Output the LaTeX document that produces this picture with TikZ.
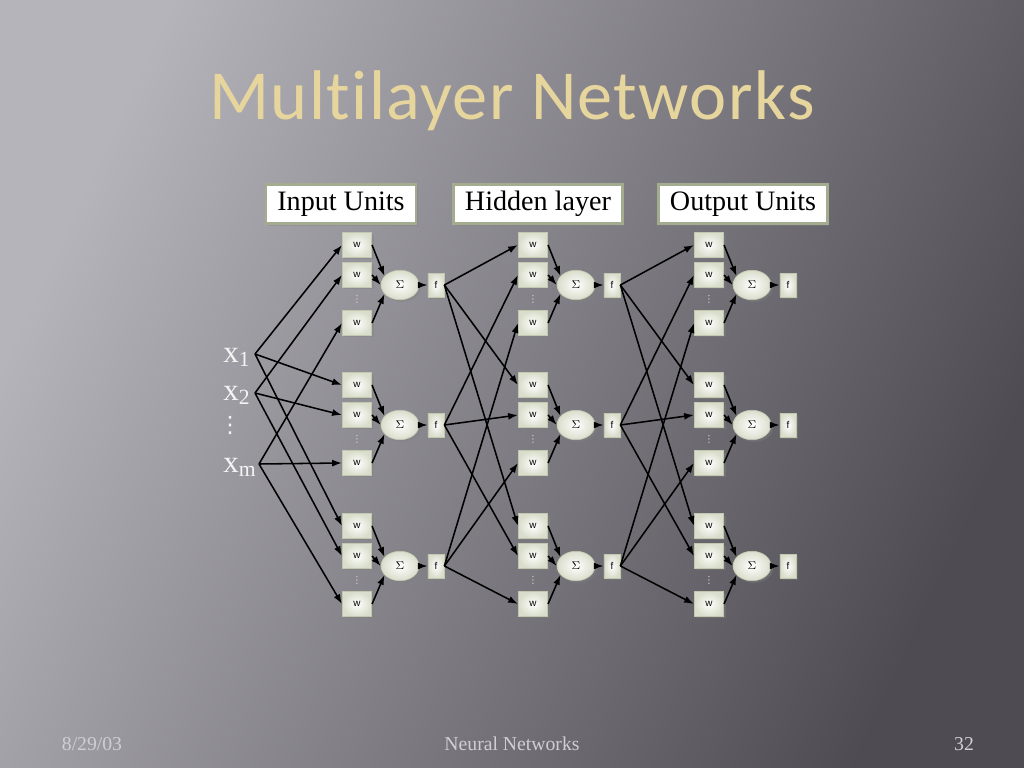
\documentclass[tikz,border=0pt]{standalone}
\usepackage{fontspec}
\setmainfont{Liberation Serif}
\setsansfont{Liberation Sans}
\newfontfamily\titlefont[Ligatures=NoCommon, LetterSpace=2]{Carlito}
\newfontfamily\dotsfont{DejaVu Sans}
\usetikzlibrary{shapes.geometric,shadows,arrows.meta}

\definecolor{bglight}{HTML}{B6B4BB}
\definecolor{bgdark}{HTML}{4E4C52}
\definecolor{titlegold}{HTML}{E6D59C}
\definecolor{hdredge}{HTML}{A3AC8E}
\definecolor{unitfill}{HTML}{D9DDCB}
\definecolor{unitedge}{HTML}{C2C8B0}
\definecolor{labeltext}{HTML}{F4F4F4}
\definecolor{foottext}{HTML}{CFCED3}

\tikzset{
  hdr/.style={draw=hdredge, line width=2pt, fill=white, inner xsep=8pt,
    minimum height=28pt, font=\fontsize{20}{24}\selectfont,
    drop shadow={opacity=.35, shadow xshift=1.5pt, shadow yshift=-1.5pt}},
  unit/.style={draw=unitedge, line width=.4pt, inner color=white, outer color=unitfill,
    inner sep=0pt, drop shadow={opacity=.4, shadow xshift=1.5pt, shadow yshift=-1.5pt}},
  wbox/.style={unit, minimum width=21pt, minimum height=17.5pt, font=\sffamily\fontsize{7}{8}\selectfont},
  fbox/.style={unit, minimum width=11.5pt, minimum height=17pt, font=\sffamily\fontsize{7}{8}\selectfont},
  sumnode/.style={unit, ellipse, minimum width=27pt, minimum height=21pt, font=\fontsize{8}{9}\selectfont},
  wdots/.style={text=unitfill, inner sep=0pt, font=\dotsfont\fontsize{7}{7}\selectfont},
  xlab/.style={text=labeltext, anchor=base west, inner sep=0pt, font=\fontsize{22}{24}\selectfont},
  link/.style={-{Latex[length=7pt,width=5pt]}, line width=1.1pt, black},
  foot/.style={text=foottext, font=\fontsize{14}{16}\selectfont}
}

\begin{document}
\begin{tikzpicture}[x=0.025cm, y=-0.025cm]
    % slide background
    \shade[top color=bglight, bottom color=bgdark, shading angle=65] (0,0) rectangle (1024,768);
    \useasboundingbox (0,0) rectangle (1024,768);

    \node[anchor=base, text=titlegold, font=\titlefont\fontsize{50}{60}\selectfont] (title) at (512,120) {Multilayer Networks};

    \node[hdr] (inhdr) at (341,204) {Input Units};
    \node[hdr] (hidhdr) at (538,204) {Hidden layer};
    \node[hdr] (outhdr) at (743,204) {Output Units};

    % inputs
    \node[xlab] (x1) at (223,362) {x\textsubscript{1}};
    \node[xlab] (x2) at (223,400) {x\textsubscript{2}};
    \node[text=labeltext, inner sep=0pt, font=\dotsfont\fontsize{16}{16}\selectfont] (xdots) at (230,425) {⋮};
    \node[xlab] (xm) at (223,472) {x\textsubscript{m}};
    \coordinate (in1) at (255,354);
    \coordinate (in2) at (255,393);
    \coordinate (in3) at (259,464);

    % three layers of three units
    \foreach \L/\cx in {1/357,2/533,3/709} {
        \foreach \n/\by in {1/245,2/385,3/526} {
            \node[wbox] (w\L\n1) at (\cx,\by) {w};
            \node[wbox] (w\L\n2) at (\cx,\by+30) {w};
            \node[wdots] (d\L\n) at (\cx,\by+54) {⋮};
            \node[wbox] (w\L\n3) at (\cx,\by+78) {w};
            \node[sumnode] (s\L\n) at (\cx+43,\by+40) {$\Sigma$};
            \node[fbox] (f\L\n) at (\cx+79,\by+40) {f};
            \foreach \k/\a in {1/150,2/180,3/210}
                \draw[link] (w\L\n\k.east) -- (s\L\n.\a);
            \draw[link] (s\L\n) -- (f\L\n);
        }
    }

    % connections
    \foreach \n in {1,2,3}
        \foreach \m in {1,2,3}
            \draw[link] (in\n) -- (w1\m\n.west);
    \foreach \L/\M in {1/2,2/3}
        \foreach \n in {1,2,3}
            \foreach \m in {1,2,3}
                \draw[link] (f\L\n.east) -- (w\M\m\n.west);

    \node[foot] (date) at (92,744) {8/29/03};
    \node[foot] (topic) at (512,744) {Neural Networks};
    \node[foot] (page) at (964,744) {32};
\end{tikzpicture}
\end{document}
